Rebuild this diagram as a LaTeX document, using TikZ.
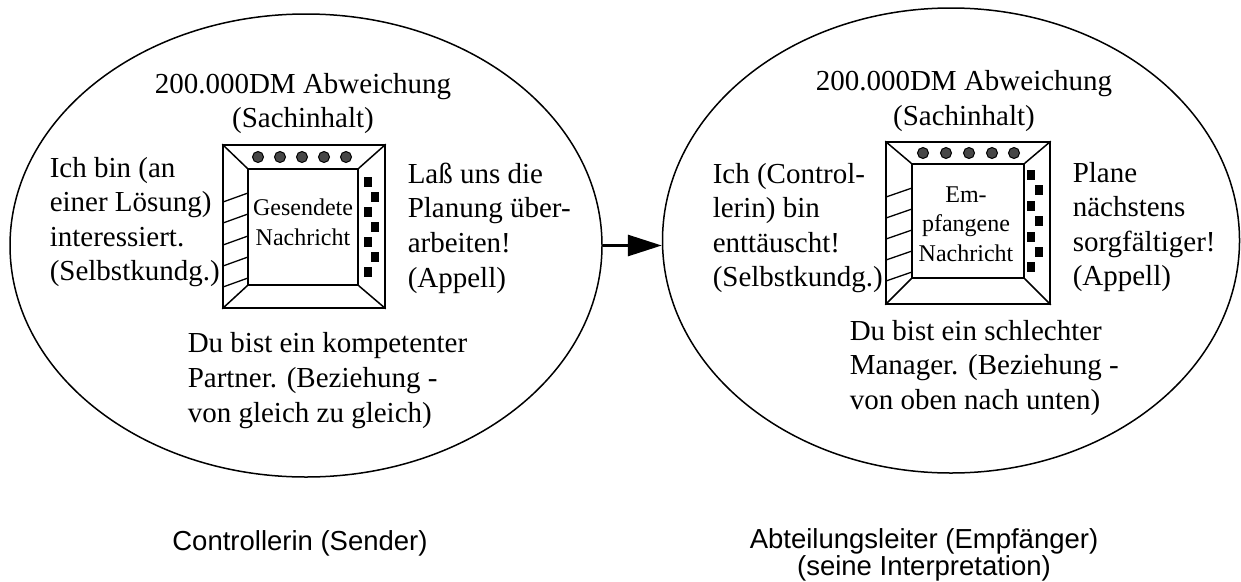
\documentclass[tikz,border=0pt]{standalone}
\usepackage{fontspec}
\setmainfont{Liberation Serif}
\setsansfont{Liberation Sans}
\usetikzlibrary{arrows.meta,shapes.geometric}

\begin{document}
\begin{tikzpicture}[x=1pt,y=-1pt,line width=1.5pt]
	\tikzset{>={Triangle[length=34pt,width=21pt]}}
	\tikzset{
		person/.style={draw,ellipse,inner sep=0pt},
		rahmen/.style={draw,rectangle,inner sep=0pt},
		aussage/.style={align=left,inner sep=0pt,font=\fontsize{29}{34.6}\selectfont},
		kern/.style={align=center,inner sep=0pt,font=\fontsize{24}{29.5}\selectfont},
		rolle/.style={align=center,inner sep=0pt,font=\sffamily\fontsize{27.5}{27}\selectfont}
	}
	\useasboundingbox (0,0) rectangle (1241,581);

	% Sender
	\node[person,minimum width=592pt,minimum height=463pt] (L) at (306,245.5) {};
	\node[rahmen,minimum width=162pt,minimum height=163pt] (La) at (304,226.5) {};
	\node[rahmen,minimum width=110pt,minimum height=116pt] (Li) at (303,227) {};
	\draw (La.north west) -- (Li.north west);
	\draw (La.north east) -- (Li.north east);
	\draw (La.south west) -- (Li.south west);
	\draw (La.south east) -- (Li.south east);
	\foreach \x in {258,280,302,324,346}
		\filldraw[fill=gray!55!black,line width=1pt] (\x,157) circle (5.5pt);
	\foreach \y/\x in {182/368,197/375,212/368,227/375,242/368,257/375,272/368}
		\fill (\x-4,\y-5) rectangle (\x+4,\y+5);
	\foreach \y in {193,214,236,257,278}
		\draw[line width=1.3pt] (223,\y+9) -- (248,\y);
	\node[kern] (Lt) at (303,222.5) {Gesendete\\Nachricht};

	\node[aussage,align=center] (Ls) at (303,103.5) {200.000DM Abweichung\\(Sachinhalt)};
	\node[aussage,anchor=west] (Lk) at (49,222) {Ich bin (an\\einer Lösung)\\interessiert.\\(Selbstkundg.)};
	\node[aussage,anchor=west] (Lp) at (407,228) {Laß uns die\\Planung über-\\arbeiten!\\(Appell)};
	\node[aussage,anchor=west] (Lb) at (187,380.5) {Du bist ein kompetenter\\Partner. (Beziehung -\\von gleich zu gleich)};

	% Empfaenger
	\node[person,minimum width=577pt,minimum height=465pt] (R) at (951,240.5) {};
	\node[rahmen,minimum width=164pt,minimum height=162pt] (Ra) at (968,223) {};
	\node[rahmen,minimum width=112pt,minimum height=114pt] (Ri) at (968,221) {};
	\draw (Ra.north west) -- (Ri.north west);
	\draw (Ra.north east) -- (Ri.north east);
	\draw (Ra.south west) -- (Ri.south west);
	\draw (Ra.south east) -- (Ri.south east);
	\foreach \x in {923,946,969,992,1014}
		\filldraw[fill=gray!55!black,line width=1pt] (\x,153) circle (5.5pt);
	\foreach \y/\x in {175/1031,190/1039,206/1031,221/1039,237/1031,252/1039,267/1031}
		\fill (\x-4,\y-5) rectangle (\x+4,\y+5);
	\foreach \y in {188,209,230,251,272}
		\draw[line width=1.3pt] (886,\y+9) -- (912,\y);
	\node[kern] (Rt) at (966,224) {Em-\\pfangene\\Nachricht};

	\node[aussage,align=center] (Rs) at (964,101) {200.000DM Abweichung\\(Sachinhalt)};
	\node[aussage,anchor=west] (Rk) at (712,228) {Ich (Control-\\lerin) bin\\enttäuscht!\\(Selbstkundg.)};
	\node[aussage,anchor=west] (Rp) at (1072,227) {Plane\\nächstens\\sorgfältiger!\\(Appell)};
	\node[aussage,anchor=west] (Rb) at (849,368) {Du bist ein schlechter\\Manager. (Beziehung -\\von oben nach unten)};

	\draw[->,line width=3pt] (L.east) -- (L.east -| R.west);

	\node[rolle] (Lr) at (300,543) {Controllerin (Sender)};
	\node[rolle] (Rr) at (924,555) {Abteilungsleiter (Empfänger)\\(seine Interpretation)};

\end{tikzpicture}
\end{document}
